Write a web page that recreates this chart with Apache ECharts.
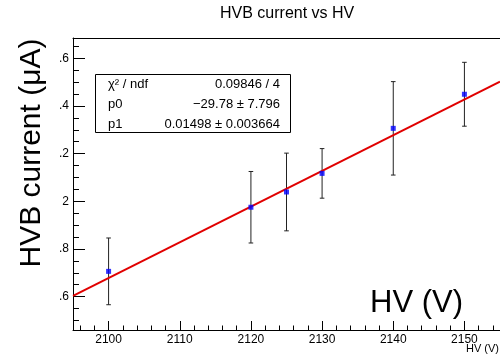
<!DOCTYPE html>
<html>
<head>
<meta charset="utf-8">
<script src="https://cdn.jsdelivr.net/npm/echarts@6/dist/echarts.min.js"></script>
<style>
  html, body { margin: 0; padding: 0; background: #fff; }
  #chart { width: 500px; height: 358px; }
</style>
</head>
<body>
<div id="chart"></div>
<script>
// Measured HVB current at each HV setting, with its uncertainty
const hv = [2100, 2120, 2125, 2130, 2140, 2150];
const current = [1.706, 1.975, 2.039, 2.117, 2.306, 2.449];
const currentErr = [0.140, 0.150, 0.163, 0.104, 0.196, 0.134];

// Axis tick labels
const xTicks = [2100, 2110, 2120, 2130, 2140, 2150];
const yTicks = [1.6, 1.8, 2.0, 2.2, 2.4, 2.6];

// Linear fit result: value, error
const fitP0 = [-29.78, 7.796];
const fitP1 = [0.01498, 0.003664];
const fitChi2Ndf = [0.09846, 4];

const xMin = 2095, xMax = 2155;
const yMin = 1.46, yMax = 2.685;

const FONT = '"Liberation Sans", Arial, Helvetica, sans-serif';

// minor tick positions
const xMinor = [];
for (let v = 2096; v <= 2154; v += 2) if (v % 10 !== 0) xMinor.push(v);
const yMinor = [];
for (let k = 30; k <= 53; k++) { const v = k * 0.05; if (k % 4 !== 0) yMinor.push(+v.toFixed(2)); }

const fitLine = (x) => fitP0[0] + fitP1[0] * x;

const chart = echarts.init(document.getElementById('chart'), null, { renderer: 'canvas' });

const axisLine = { show: true, lineStyle: { color: '#000', width: 1 } };

chart.setOption({
  animation: false,
  backgroundColor: '#fff',
  title: {
    text: 'HVB current vs HV',
    left: 220, top: 6, padding: 0,
    textStyle: { fontFamily: FONT, fontSize: 16, fontWeight: 'normal', color: '#000' }
  },
  grid: { left: 73, right: 0, top: 38, bottom: 28 },
  xAxis: [
    {
      type: 'value', min: xMin, max: xMax, position: 'bottom',
      axisLine: axisLine,
      axisTick: { show: true, inside: true, length: 9, customValues: xTicks, lineStyle: { color: '#000' } },
      axisLabel: { show: true, customValues: xTicks, margin: 4, fontFamily: FONT, fontSize: 12, color: '#000', formatter: (v) => String(v) },
      splitLine: { show: false }
    },
    {
      type: 'value', min: xMin, max: xMax, position: 'bottom',
      axisLine: { show: false },
      axisTick: { show: true, inside: true, length: 4.5, customValues: xMinor, lineStyle: { color: '#000' } },
      axisLabel: { show: false },
      splitLine: { show: false }
    },
    {
      type: 'value', min: xMin, max: xMax, position: 'top',
      axisLine: axisLine,
      axisTick: { show: false },
      axisLabel: { show: false },
      splitLine: { show: false }
    }
  ],
  yAxis: [
    {
      type: 'value', min: yMin, max: yMax, position: 'left',
      axisLine: axisLine,
      axisTick: { show: true, inside: true, length: 12, customValues: yTicks, lineStyle: { color: '#000' } },
      axisLabel: { show: true, customValues: yTicks, margin: 4, fontFamily: FONT, fontSize: 12, color: '#000', formatter: (v) => String(v) },
      splitLine: { show: false }
    },
    {
      type: 'value', min: yMin, max: yMax, position: 'left',
      axisLine: { show: false },
      axisTick: { show: true, inside: true, length: 6, customValues: yMinor, lineStyle: { color: '#000' } },
      axisLabel: { show: false },
      splitLine: { show: false }
    }
  ],
  series: [
    {
      name: 'errors',
      type: 'custom',
      xAxisIndex: 0, yAxisIndex: 0,
      z: 2,
      data: hv.map((x, i) => [x, current[i] - currentErr[i], current[i] + currentErr[i]]),
      renderItem: function (params, api) {
        const x = api.value(0);
        const lo = api.coord([x, api.value(1)]);
        const hi = api.coord([x, api.value(2)]);
        const cap = 2.3;
        const style = { stroke: '#222', lineWidth: 1 };
        return {
          type: 'group',
          children: [
            { type: 'line', shape: { x1: lo[0], y1: lo[1], x2: hi[0], y2: hi[1] }, style: style },
            { type: 'line', shape: { x1: lo[0] - cap, y1: lo[1], x2: lo[0] + cap, y2: lo[1] }, style: style },
            { type: 'line', shape: { x1: hi[0] - cap, y1: hi[1], x2: hi[0] + cap, y2: hi[1] }, style: style }
          ]
        };
      }
    },
    {
      name: 'fit',
      type: 'line',
      xAxisIndex: 0, yAxisIndex: 0,
      z: 3,
      showSymbol: false,
      lineStyle: { color: '#e00000', width: 2 },
      data: [[xMin, fitLine(xMin)], [xMax, fitLine(xMax)]]
    },
    {
      name: 'HVB current',
      type: 'scatter',
      xAxisIndex: 0, yAxisIndex: 0,
      z: 4,
      symbol: 'rect',
      symbolSize: 5,
      itemStyle: { color: '#0000ff' },
      data: hv.map((x, i) => [x, current[i]])
    }
  ],
  graphic: [
    // fit statistics box
    { type: 'rect', z: 50, shape: { x: 95.5, y: 74.5, width: 195, height: 58 }, style: { fill: '#fff', stroke: '#000', lineWidth: 1 } },
    { type: 'text', z: 51, x: 108, y: 84, style: { text: 'χ² / ndf', font: '13px ' + FONT, fill: '#000', textAlign: 'left', textVerticalAlign: 'middle' } },
    { type: 'text', z: 51, x: 280, y: 84, style: { text: fitChi2Ndf[0] + ' / ' + fitChi2Ndf[1], font: '13px ' + FONT, fill: '#000', textAlign: 'right', textVerticalAlign: 'middle' } },
    { type: 'text', z: 51, x: 108, y: 104, style: { text: 'p0', font: '13px ' + FONT, fill: '#000', textAlign: 'left', textVerticalAlign: 'middle' } },
    { type: 'text', z: 51, x: 280, y: 104, style: { text: String(fitP0[0]).replace('-', '\u2212') + ' \u00b1 ' + fitP0[1], font: '13px ' + FONT, fill: '#000', textAlign: 'right', textVerticalAlign: 'middle' } },
    { type: 'text', z: 51, x: 108, y: 124, style: { text: 'p1', font: '13px ' + FONT, fill: '#000', textAlign: 'left', textVerticalAlign: 'middle' } },
    { type: 'text', z: 51, x: 280, y: 124, style: { text: fitP1[0] + ' \u00b1 ' + fitP1[1], font: '13px ' + FONT, fill: '#000', textAlign: 'right', textVerticalAlign: 'middle' } },
    // large y-axis title on a white backing
    { type: 'rect', z: 60, zlevel: 1, shape: { x: 0, y: 40, width: 59.5, height: 280 }, style: { fill: '#fff' } },
    { type: 'text', z: 61, zlevel: 1, x: 32, y: 153, rotation: Math.PI / 2, style: { text: 'HVB current (μA)', font: '30px ' + FONT, fill: '#000', textAlign: 'center', textVerticalAlign: 'middle' } },
    // large x-axis title
    { type: 'text', z: 60, x: 370, y: 303, style: { text: 'HV (V)', font: '31px ' + FONT, fill: '#000', textAlign: 'left', textVerticalAlign: 'middle' } },
    // small axis title
    { type: 'text', z: 60, x: 499, y: 349, style: { text: 'HV (V)', font: '11px ' + FONT, fill: '#000', textAlign: 'right', textVerticalAlign: 'middle' } }
  ]
});
</script>
</body>
</html>
